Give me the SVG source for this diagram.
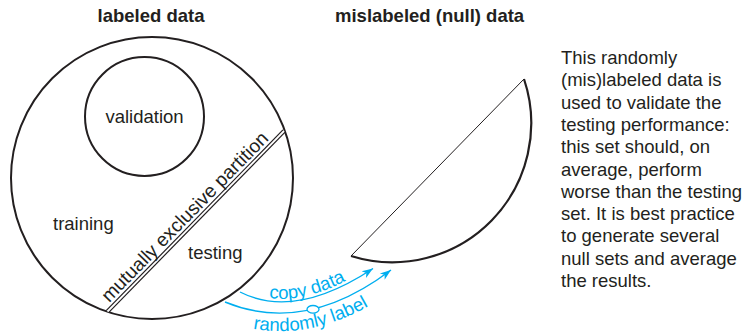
<svg xmlns="http://www.w3.org/2000/svg" width="743" height="335" viewBox="0 0 743 335">
<style>
.t{font-family:"Liberation Sans",Arial,Helvetica,sans-serif;font-size:18.5px;fill:#231f20}
.b{font-weight:bold}
.bl{font-family:"Liberation Sans",Arial,Helvetica,sans-serif;font-size:18.5px;fill:#00aeef}
.ln{fill:none;stroke:#231f20;stroke-width:2}
.arr{fill:none;stroke:#00aeef;stroke-width:1.4;marker-end:url(#ah)}
</style>
<defs>
<marker id="ah" markerWidth="12" markerHeight="10" refX="11" refY="5" orient="auto" markerUnits="userSpaceOnUse">
<path d="M0,1 L11,5 L0,9 L3,5 Z" fill="#00aeef"/>
</marker>
<path id="p1" d="M241.5,289 Q295,317 371,265.5"/>
<path id="p2" d="M218.5,318.5 Q307.6,355.4 401.3,284.4"/>
</defs>
<rect width="743" height="335" fill="#fff"/>

<g id="labeled-data">
<text class="t b" x="151" y="22" text-anchor="middle">labeled data</text>
<circle class="ln" cx="152" cy="178" r="141"/>
</g>

<g id="validation">
<circle class="ln" cx="144.5" cy="116.5" r="59.5"/>
<text class="t" x="144.5" y="123" text-anchor="middle">validation</text>
</g>

<g id="training">
<text class="t" x="53" y="229.5">training</text>
</g>

<g id="testing">
<text class="t" x="188" y="258.8">testing</text>
</g>

<g id="partition">
<line x1="107.5" y1="311.5" x2="284" y2="131" stroke="#231f20" stroke-width="4.2"/>
<line x1="107.5" y1="311.5" x2="284" y2="131" stroke="#fff" stroke-width="1.8"/>
<text class="t" style="font-size:19.2px" transform="translate(112,306) rotate(-45.6)" x="0" y="-4">mutually exclusive partition</text>
</g>

<g id="null-data">
<text class="t b" x="335" y="22">mislabeled (null) data</text>
<line x1="351" y1="256" x2="524" y2="79" stroke="#231f20" stroke-width="1"/>
<path d="M524,79 A139,139 0 0 1 351,256" fill="none" stroke="#231f20" stroke-width="2.2"/>
</g>

<g id="note" class="t">
<text x="561" y="64">This randomly</text>
<text x="561" y="86.3">(mis)labeled data is</text>
<text x="561" y="108.6">used to validate the</text>
<text x="561" y="130.9">testing performance:</text>
<text x="561" y="153.2">this set should, on</text>
<text x="561" y="175.5">average, perform</text>
<text x="561" y="197.8">worse than the testing</text>
<text x="561" y="220.1">set. It is best practice</text>
<text x="561" y="242.4">to generate several</text>
<text x="561" y="264.7">null sets and average</text>
<text x="561" y="287">the results.</text>
</g>

<g id="connectors">
<path class="arr" d="M240,292 Q295,320 373,268.5"/>
<path class="arr" d="M225,302 Q305,335 391,270"/>
<ellipse cx="313" cy="309.3" rx="6" ry="3.8" fill="#fff" stroke="#00aeef" stroke-width="1.3"/>
<text class="bl"><textPath href="#p1" startOffset="29">copy data</textPath></text>
<text class="bl"><textPath href="#p2" startOffset="36">randomly label</textPath></text>
</g>
</svg>
